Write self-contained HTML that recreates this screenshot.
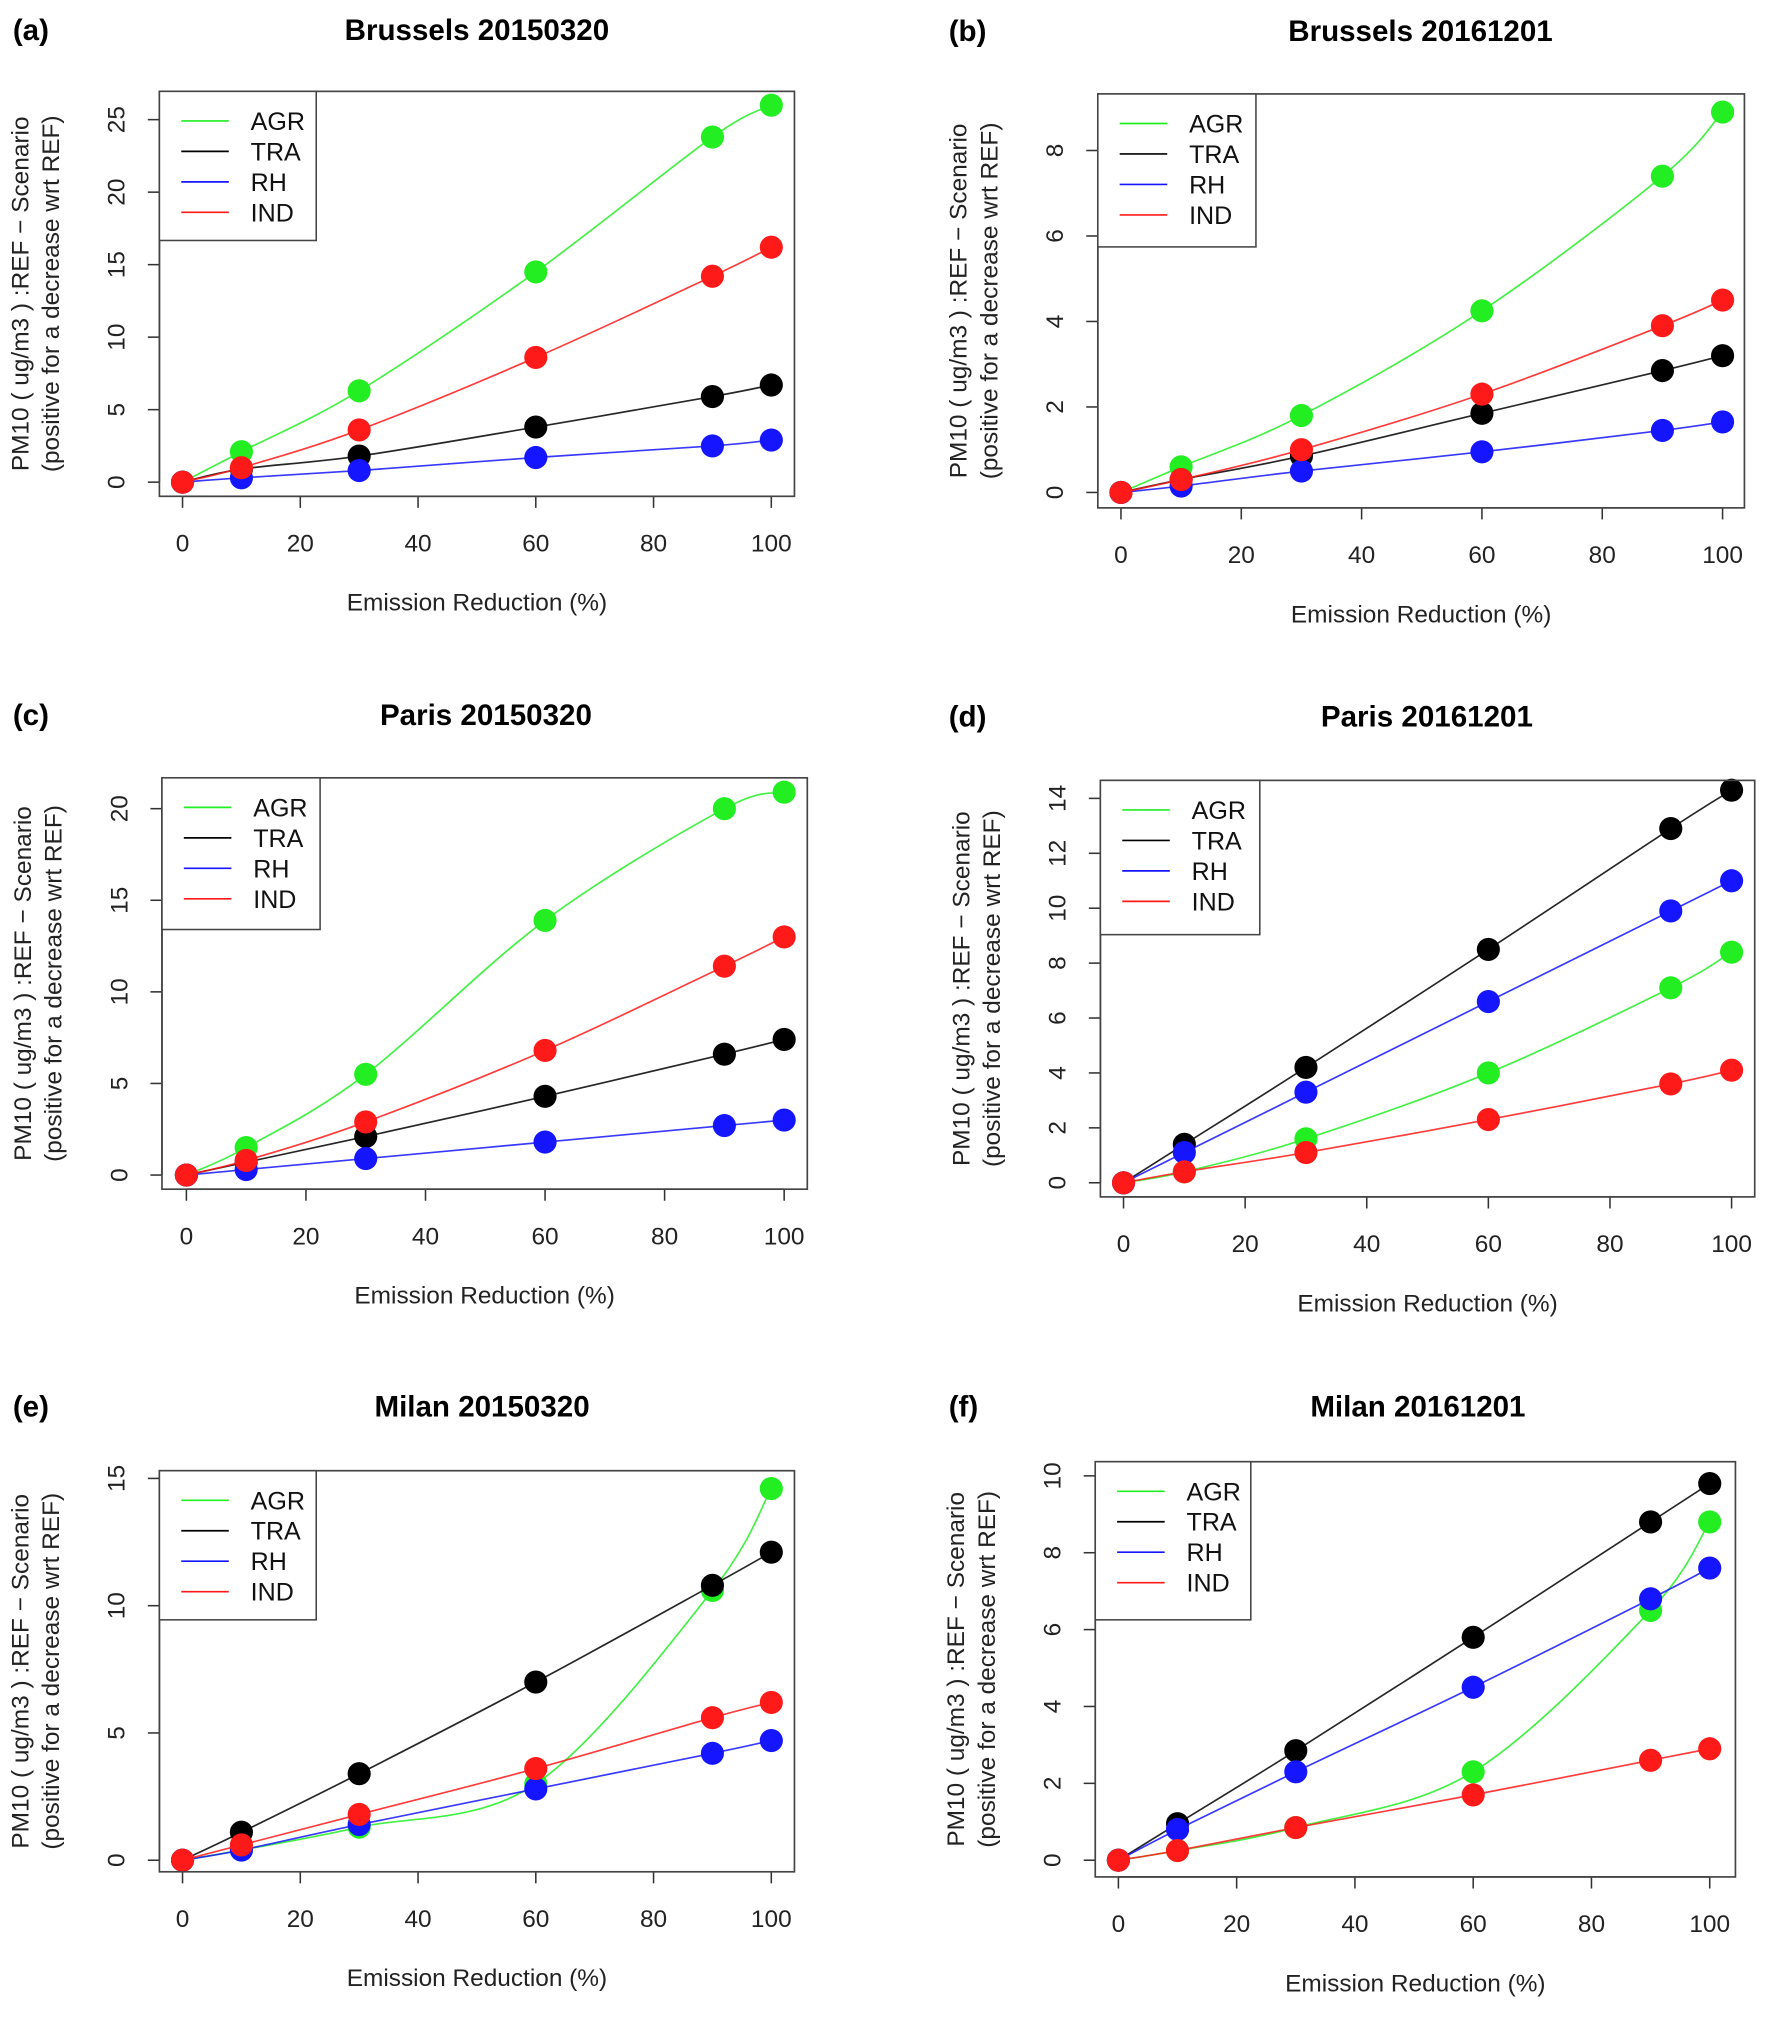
<!DOCTYPE html>
<html><head><meta charset="utf-8"><style>
html,body{margin:0;padding:0;background:#fff;}
svg{display:block;font-family:"Liberation Sans",Arial,sans-serif;}
</style></head><body>
<svg id="fig" width="1774" height="2021" viewBox="0 0 1380 1572" xmlns="http://www.w3.org/2000/svg"></svg>
<script>
const xs = [0,10,30,60,90,100];
const seriesNames = ["AGR","TRA","RH","IND"];
const seriesColors = ["#22ee22","#000000","#1515ff","#ff1a1a"];
const titles = ["Brussels 20150320","Brussels 20161201","Paris 20150320","Paris 20161201","Milan 20150320","Milan 20161201"];
const panelLetters = ["(a)","(b)","(c)","(d)","(e)","(f)"];
const xTicks = [0,20,40,60,80,100];
const yTicksA = [0,5,10,15,20,25];
const yTicksB = [0,2,4,6,8];
const yTicksC = [0,5,10,15,20];
const yTicksD = [0,2,4,6,8,10,12,14];
const yTicksE = [0,5,10,15];
const yTicksF = [0,2,4,6,8,10];
const aAGR=[0,2.1,6.3,14.5,23.8,26], aTRA=[0,0.9,1.8,3.8,5.9,6.7], aRH=[0,0.3,0.8,1.7,2.5,2.9], aIND=[0,1.0,3.6,8.6,14.2,16.2];
const bAGR=[0,0.6,1.8,4.25,7.4,8.9], bTRA=[0,0.3,0.85,1.85,2.85,3.2], bRH=[0,0.15,0.5,0.95,1.45,1.65], bIND=[0,0.3,1.0,2.3,3.9,4.5];
const cAGR=[0,1.5,5.5,13.9,20,20.9], cTRA=[0,0.7,2.1,4.3,6.6,7.4], cRH=[0,0.3,0.9,1.8,2.7,3.0], cIND=[0,0.8,2.9,6.8,11.4,13.0];
const dAGR=[0,0.4,1.6,4.0,7.1,8.4], dTRA=[0,1.4,4.2,8.5,12.9,14.3], dRH=[0,1.1,3.3,6.6,9.9,11.0], dIND=[0,0.4,1.1,2.3,3.6,4.1];
const eAGR=[0,0.4,1.3,3.0,10.6,14.6], eTRA=[0,1.1,3.4,7.0,10.8,12.1], eRH=[0,0.4,1.4,2.8,4.2,4.7], eIND=[0,0.6,1.8,3.6,5.6,6.2];
const fAGR=[0,0.25,0.85,2.3,6.5,8.8], fTRA=[0,0.95,2.85,5.8,8.8,9.8], fRH=[0,0.8,2.3,4.5,6.8,7.6], fIND=[0,0.25,0.85,1.7,2.6,2.9];

const layout = [
 {bx:124,bx2:618,by:71,by2:386,x0:142,x100:600,yb:375,yt:93,ymax:25,tx:371,ty:23,lx:10,lw:122,lh:116},
 {bx:854,bx2:1357,by:73,by2:395,x0:872,x100:1340,yb:383,yt:117,ymax:8,tx:1105,ty:24,lx:738,lw:123,lh:119},
 {bx:126,bx2:628,by:605,by2:925,x0:145,x100:610,yb:914,yt:629,ymax:20,tx:378,ty:556,lx:10,lw:123,lh:118},
 {bx:856,bx2:1365,by:607,by2:931,x0:874,x100:1347,yb:920,yt:621,ymax:14,tx:1110,ty:557,lx:738,lw:124,lh:120},
 {bx:124,bx2:618,by:1144,by2:1456,x0:142,x100:600,yb:1447,yt:1150,ymax:15,tx:375,ty:1094,lx:10,lw:122,lh:116},
 {bx:852,bx2:1350,by:1137,by2:1460,x0:870,x100:1330,yb:1447,yt:1148,ymax:10,tx:1103,ty:1094,lx:738,lw:121,lh:123}
];
const allTicks=[yTicksA,yTicksB,yTicksC,yTicksD,yTicksE,yTicksF];
const allData=[[aAGR,aTRA,aRH,aIND],[bAGR,bTRA,bRH,bIND],[cAGR,cTRA,cRH,cIND],[dAGR,dTRA,dRH,dIND],[eAGR,eTRA,eRH,eIND],[fAGR,fTRA,fRH,fIND]];

const NS="http://www.w3.org/2000/svg";
const svg=document.getElementById('fig');
function mk(tag,attrs,parent){const e=document.createElementNS(NS,tag);for(const k in attrs)e.setAttribute(k,attrs[k]);(parent||svg).appendChild(e);return e;}
function spline(pts){
  let d="M"+pts[0][0]+","+pts[0][1];
  for(let i=0;i<pts.length-1;i++){
    const p0=pts[Math.max(0,i-1)],p1=pts[i],p2=pts[i+1],p3=pts[Math.min(pts.length-1,i+2)];
    const c1=[p1[0]+(p2[0]-p0[0])/6,p1[1]+(p2[1]-p0[1])/6];
    const c2=[p2[0]-(p3[0]-p1[0])/6,p2[1]-(p3[1]-p1[1])/6];
    d+=" C"+c1[0]+","+c1[1]+" "+c2[0]+","+c2[1]+" "+p2[0]+","+p2[1];
  }
  return d;
}
layout.forEach((L,pi)=>{
  const g=mk('g',{});
  
  
  const X=v=>L.x0+(L.x100-L.x0)*v/100;
  const Y=v=>L.yb-(L.yb-L.yt)*v/L.ymax;
  const lt=mk('text',{x:L.lx,y:L.ty+8,'font-size':23,'font-weight':'bold'},g);lt.textContent=panelLetters[pi];
  
  
  const tt=mk('text',{x:L.tx,y:L.ty+8,'font-size':23,'font-weight':'bold','text-anchor':'middle'},g);tt.textContent=titles[pi];
  
  
  const ax=mk('g',{stroke:'#333','stroke-width':1.2},g);
  
  
  mk('line',{x1:X(0),x2:X(100),y1:L.by2,y2:L.by2},ax);
  xTicks.forEach(t=>{
    mk('line',{x1:X(t),x2:X(t),y1:L.by2,y2:L.by2+9},ax);
    const tx=mk('text',{x:X(t),y:L.by2+43,'font-size':19,'text-anchor':'middle',fill:'#222',stroke:'none'},g);tx.textContent=t;
    
    
  });
  const ay=mk('g',{stroke:'#333','stroke-width':1.2},g);
  
  
  const yt=allTicks[pi];
  mk('line',{x1:L.bx,x2:L.bx,y1:Y(yt[0]),y2:Y(yt[yt.length-1])},ay);
  yt.forEach(t=>{
    mk('line',{x1:L.bx-9,x2:L.bx,y1:Y(t),y2:Y(t)},ay);
    const x=L.bx-27,y=Y(t);
    const tx=mk('text',{x:x,y:y,'font-size':19,'text-anchor':'middle',fill:'#222',transform:`rotate(-90 ${x} ${y})`},g);tx.textContent=t;
    
    
  });
  const xl=mk('text',{x:(L.bx+L.bx2)/2,y:L.by2+89,'font-size':19,'text-anchor':'middle',fill:'#222'},g);xl.textContent="Emission Reduction (%)";
  
  
  const cy=(L.by+L.by2)/2;
  const yl1x=L.bx-102, yl2x=L.bx-78;
  const yl1=mk('text',{x:yl1x,y:cy,'font-size':19,'text-anchor':'middle',fill:'#222',transform:`rotate(-90 ${yl1x} ${cy})`},g);yl1.textContent="PM10 ( ug/m3 ) :REF \u2212 Scenario";
  
  
  const yl2=mk('text',{x:yl2x,y:cy,'font-size':19,'text-anchor':'middle',fill:'#222',transform:`rotate(-90 ${yl2x} ${cy})`},g);yl2.textContent="(positive for a decrease wrt REF)";
  
  
  allData[pi].forEach((vals,si)=>{
    const sg=mk('g',{},g);
    
    
    const pts=xs.map((x,i)=>[X(x),Y(vals[i])]);
    mk('path',{d:spline(pts),fill:'none',stroke:seriesColors[si],'stroke-width':1.3,opacity:0.85},sg);
    pts.forEach(p=>{
      const c=mk('circle',{cx:p[0],cy:p[1],r:9,fill:seriesColors[si]},sg);
      
      
    });
  });
  mk('rect',{x:L.bx,y:L.by,width:L.bx2-L.bx,height:L.by2-L.by,fill:'none',stroke:'#444','stroke-width':1.3},g);
  const lg=mk('g',{},g);
  
  
  mk('rect',{x:L.bx,y:L.by,width:L.lw,height:L.lh,fill:'#fff',stroke:'#444','stroke-width':1.2},lg);
  seriesNames.forEach((n,si)=>{
    const yy=L.by+23+si*23.7;
    const e=mk('g',{},lg);
    
    
    mk('line',{x1:L.bx+17,x2:L.bx+54,y1:yy,y2:yy,stroke:seriesColors[si],'stroke-width':1.3},e);
    const t=mk('text',{x:L.bx+71,y:yy+7,'font-size':19.5,fill:'#111'},e);t.textContent=n;
  });
});
</script>
</body></html>
